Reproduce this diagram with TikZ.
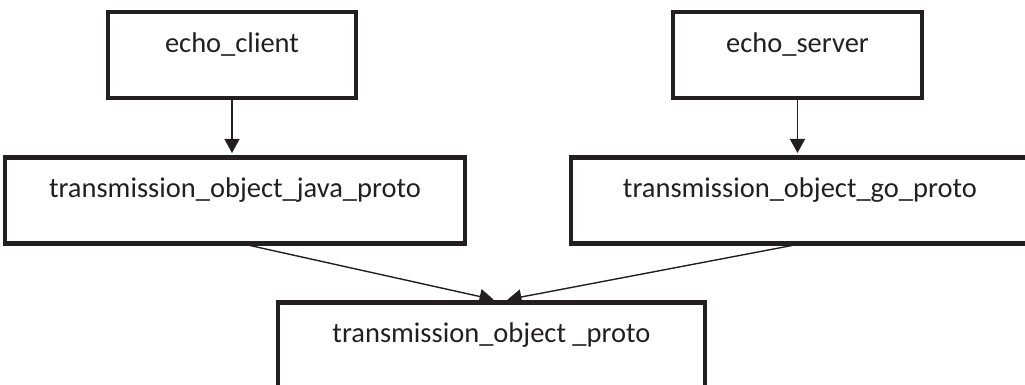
\documentclass[tikz,border=0pt]{standalone}
\usepackage{fontspec}
\setmainfont{Carlito}
\usetikzlibrary{arrows.meta,positioning}
\definecolor{protoInk}{HTML}{231F20}
\definecolor{protoText}{HTML}{231F20}
\begin{document}
\begin{tikzpicture}[x=1pt,y=-1pt,>=Latex,line join=miter]
\useasboundingbox (0,0) rectangle (1025,385);
\clip (0,0) rectangle (1025,385);
\tikzset{box/.style={draw=protoInk,line width=4.5pt,inner sep=0pt,anchor=north,text=protoText,text height=40pt,text depth=46pt,font=\fontsize{28.5}{31}\selectfont},link/.style={draw=protoInk,line width=1.4pt,-{Triangle[length=14pt,width=15pt]},shorten >=2pt}}
% top row
\node[box,minimum width=248pt] (client) at (232,10) {echo\_client};
\node[box,minimum width=249pt] (server) at (797.5,10) {echo\_server};
% generated protos
\node[box,minimum width=460pt] (javaproto) at (235,155) {transmission\_object\_java\_proto};
\node[box,minimum width=458pt] (goproto) at (800,155) {transmission\_object\_go\_proto};
\node[box,minimum width=427pt] (proto) at (491.5,300) {transmission\_object \_proto};
\draw[link] (client.south) -- (client.south |- javaproto.north);
\draw[link] (server.south) -- (server.south |- goproto.north);
\draw[link] ([xshift=15pt]javaproto.south) -- ([xshift=4pt]proto.north);
\draw[link] ([xshift=-8pt]goproto.south) -- ([xshift=14pt]proto.north);
\end{tikzpicture}
\end{document}
